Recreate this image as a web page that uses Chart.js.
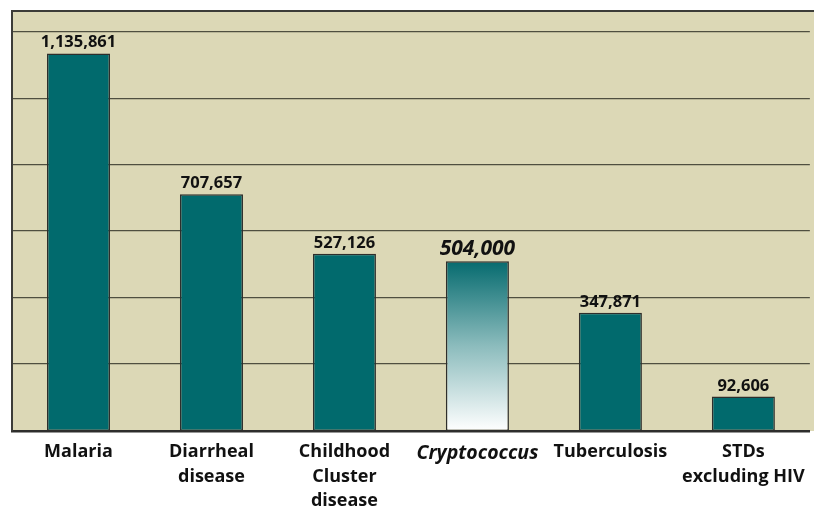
<!DOCTYPE html>
<html>
<head>
<meta charset="utf-8">
<script src="https://cdn.jsdelivr.net/npm/chart.js@4.4.1/dist/chart.umd.min.js"></script>
<style>
  html, body { margin: 0; padding: 0; background: #fff; overflow: hidden; }
  #wrap { width: 814px; height: 510px; }
</style>
</head>
<body>
<div id="wrap"><canvas id="chart" width="814" height="510"></canvas></div>
<script>
// data
const categories = [['Malaria'], ['Diarrheal', 'disease'], ['Childhood', 'Cluster', 'disease'], ['Cryptococcus'], ['Tuberculosis'], ['STDs', 'excluding HIV']];
const deaths = [1135861, 707657, 527126, 504000, 347871, 92606];
const valueLabels = ['1,135,861', '707,657', '527,126', '504,000', '347,871', '92,606'];
// the horizontal rules in the picture sit a little off round numbers
const gridValues = [193000, 395000, 596000, 798000, 1000000, 1201000];
const axisMin = -12000;
const axisMax = 1265000;
const highlightIndex = 3; // Cryptococcus

const FONT = '"Open Sans", "Noto Sans", sans-serif';
const BAR_COLOR = '#016a6d';
const PLOT_BG = '#dcd8b6';

// plot background + top border
const plotFrame = {
    id: 'plotFrame',
    beforeDraw(chart) {
        const { ctx, chartArea: a } = chart;
        ctx.save();
        ctx.fillStyle = PLOT_BG;
        ctx.fillRect(a.left, a.top, chart.width - a.left, a.bottom - a.top);
        ctx.restore();
    },
    afterDraw(chart) {
        const { ctx, chartArea: a } = chart;
        ctx.save();
        ctx.strokeStyle = '#3c3c38';
        ctx.lineWidth = 2;
        ctx.beginPath();
        ctx.moveTo(a.left - 1, a.top);
        ctx.lineTo(chart.width, a.top);
        ctx.stroke();
        ctx.restore();
    }
};

// numbers above the bars
const valueTags = {
    id: 'valueTags',
    afterDatasetsDraw(chart) {
        const { ctx } = chart;
        const meta = chart.getDatasetMeta(0);
        ctx.save();
        ctx.fillStyle = '#111';
        ctx.textAlign = 'center';
        ctx.textBaseline = 'alphabetic';
        meta.data.forEach((bar, i) => {
            if (i === highlightIndex) {
                ctx.font = 'italic bold 21px ' + FONT;
                ctx.fillText(valueLabels[i], bar.x, bar.y - 6);
            } else {
                ctx.font = 'bold 16.5px ' + FONT;
                ctx.fillText(valueLabels[i], bar.x, bar.y - 6);
            }
        });
        ctx.restore();
    }
};

function barFill(context) {
    if (context.dataIndex !== highlightIndex) return BAR_COLOR;
    const chart = context.chart;
    const a = chart.chartArea;
    if (!a) return BAR_COLOR;
    const top = chart.scales.y.getPixelForValue(deaths[highlightIndex]);
    const g = chart.ctx.createLinearGradient(0, top, 0, a.bottom);
    g.addColorStop(0, '#066b6f');
    g.addColorStop(0.5, '#8cbcbd');
    g.addColorStop(1, '#ffffff');
    return g;
}

new Chart(document.getElementById('chart'), {
    type: 'bar',
    data: {
        labels: categories,
        datasets: [{
            data: deaths,
            base: axisMin,
            backgroundColor: barFill,
            borderColor: '#2e2e2c',
            borderWidth: 1.5,
            borderSkipped: false,
            categoryPercentage: 1,
            barPercentage: 0.474
        }]
    },
    options: {
        responsive: false,
        animation: false,
        layout: { padding: { top: 11, left: 12, right: 4, bottom: 0 } },
        plugins: { legend: { display: false }, tooltip: { enabled: false } },
        scales: {
            x: {
                grid: { display: false, drawTicks: false },
                border: { display: true, color: '#2e2e2c', width: 2.5 },
                ticks: {
                    padding: 9,
                    color: '#111',
                    maxRotation: 0,
                    autoSkip: false,
                    font: ctx => ({
                        family: FONT,
                        size: ctx.index === highlightIndex ? 19.5 : 18,
                        weight: 'bold',
                        style: ctx.index === highlightIndex ? 'italic' : 'normal',
                        lineHeight: 1.36
                    })
                },
                afterFit: s => { s.height = 79; }
            },
            y: {
                min: axisMin,
                max: axisMax,
                ticks: { display: false },
                afterBuildTicks: s => { s.ticks = gridValues.map(v => ({ value: v })); },
                grid: { color: '#4f4f40', lineWidth: 1.2, drawTicks: false },
                border: { display: true, color: '#3c3c38', width: 2 },
                afterFit: s => { s.width = 0; }
            }
        }
    },
    plugins: [plotFrame, valueTags]
});
</script>
</body>
</html>
